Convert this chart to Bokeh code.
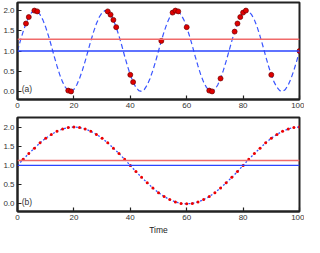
from bokeh.plotting import figure
from bokeh.layouts import column
from bokeh.models import Span, SingleIntervalTicker, NumeralTickFormatter, Label
from bokeh.embed import file_html
from bokeh.resources import INLINE

# ---- panel (a) ----
time_a = list(range(0, 101))
curve_a = [1.00, 1.25, 1.48, 1.68, 1.84, 1.95, 2.00, 1.98, 1.90, 1.77, 1.59, 1.37, 1.13,
           0.87, 0.63, 0.41, 0.23, 0.10, 0.02, 0.00, 0.05, 0.16, 0.32, 0.52, 0.75,
           1.00, 1.25, 1.48, 1.68, 1.84, 1.95, 2.00, 1.98, 1.90, 1.77, 1.59, 1.37, 1.13,
           0.87, 0.63, 0.41, 0.23, 0.10, 0.02, 0.00, 0.05, 0.16, 0.32, 0.52, 0.75,
           1.00, 1.25, 1.48, 1.68, 1.84, 1.95, 2.00, 1.98, 1.90, 1.77, 1.59, 1.37, 1.13,
           0.87, 0.63, 0.41, 0.23, 0.10, 0.02, 0.00, 0.05, 0.16, 0.32, 0.52, 0.75,
           1.00, 1.25, 1.48, 1.68, 1.84, 1.95, 2.00, 1.98, 1.90, 1.77, 1.59, 1.37, 1.13,
           0.87, 0.63, 0.41, 0.23, 0.10, 0.02, 0.00, 0.05, 0.16, 0.32, 0.52, 0.75,
           1.00]
sample_t = [3, 4, 6, 7, 18, 19, 32, 33, 34, 35, 40, 41, 51, 55, 56, 57, 60,
            68, 69, 72, 77, 78, 79, 80, 81, 90, 100]
sample_a = [1.68, 1.84, 2.00, 1.98, 0.02, 0.00, 1.98, 1.90, 1.77, 1.59, 0.41, 0.23,
            1.25, 1.95, 2.00, 1.98, 1.59, 0.02, 0.00, 0.32, 1.48, 1.68, 1.84, 1.95,
            2.00, 0.41, 1.00]
mean_a = 1.29
ref_a = 1.0

# ---- panel (b) ----
time_b = list(range(0, 101, 2))
curve_b = [1.00, 1.16, 1.31, 1.45, 1.59, 1.71, 1.81, 1.89, 1.95, 1.99, 2.00,
           1.99, 1.95, 1.89, 1.81, 1.71, 1.59, 1.45, 1.31, 1.16, 1.00,
           0.84, 0.69, 0.55, 0.41, 0.29, 0.19, 0.11, 0.05, 0.01, 0.00,
           0.01, 0.05, 0.11, 0.19, 0.29, 0.41, 0.55, 0.69, 0.84, 1.00,
           1.16, 1.31, 1.45, 1.59, 1.71, 1.81, 1.89, 1.95, 1.99, 2.00]
mean_b = 1.13
ref_b = 1.0

FONT = "Liberation Sans"
GREY = "#222222"
BLUE = "#2a44ff"
RED_LINE = "#f06a6a"


def style(p, xlabel=None):
    p.xgrid.visible = False
    p.ygrid.visible = False
    p.outline_line_color = GREY
    p.outline_line_width = 2
    p.background_fill_color = "white"
    p.border_fill_color = "white"
    xt = SingleIntervalTicker(interval=20, num_minor_ticks=0)
    yt = SingleIntervalTicker(interval=0.5, num_minor_ticks=0)
    p.xaxis.ticker = xt
    p.yaxis.ticker = yt
    p.yaxis.formatter = NumeralTickFormatter(format="0.0")
    for ax in (p.xaxis[0], p.yaxis[0]):
        ax.axis_line_color = GREY
        ax.axis_line_width = 2
        ax.major_tick_in = 4
        ax.major_tick_out = 0
        ax.minor_tick_in = 0
        ax.minor_tick_out = 0
        ax.major_tick_line_color = GREY
        ax.major_tick_line_width = 1.2
        ax.major_label_text_font = FONT
        ax.major_label_text_font_size = "8px"
        ax.major_label_text_color = "#333333"
        ax.major_label_standoff = 3
    if xlabel:
        p.xaxis.axis_label = xlabel
        p.xaxis.axis_label_text_font = FONT
        p.xaxis.axis_label_text_font_size = "8.5px"
        p.xaxis.axis_label_text_font_style = "normal"
        p.xaxis.axis_label_text_color = "#222222"
        p.xaxis.axis_label_standoff = 2


pa = figure(width=304, height=112, x_range=(0, 100), y_range=(-0.2, 2.2),
            output_backend="svg", toolbar_location=None,
            min_border_left=16, min_border_right=5, min_border_top=2, min_border_bottom=13)
style(pa)
pa.add_layout(Span(location=mean_a, dimension="width", line_color=RED_LINE, line_width=1.5))
pa.add_layout(Span(location=ref_a, dimension="width", line_color=BLUE, line_width=1.3))
pa.line(time_a, curve_a, line_color="#3a55ff", line_width=1.2, line_dash="5 3")
pa.scatter(sample_t, sample_a, size=5, fill_color="#e00000", line_color="#700000", line_width=0.7)
pa.add_layout(Label(x=1.5, y=0.06, text="(a)", text_font=FONT, text_font_size="8.5px",
                    text_color="#333333", text_baseline="middle"))

pb = figure(width=304, height=125, x_range=(0, 100), y_range=(-0.2, 2.25),
            output_backend="svg", toolbar_location=None,
            min_border_left=16, min_border_right=5, min_border_top=5, min_border_bottom=21)
style(pb, "Time")
pb.add_layout(Span(location=mean_b, dimension="width", line_color=RED_LINE, line_width=1.5))
pb.add_layout(Span(location=ref_b, dimension="width", line_color=BLUE, line_width=1.3))
pb.line(time_b, curve_b, line_color="#3a55ff", line_width=1.3, line_dash="2 2")
pb.scatter(time_b, curve_b, size=3, fill_color="#ee0000", line_color=None)
pb.add_layout(Label(x=1.5, y=0.06, text="(b)", text_font=FONT, text_font_size="8.5px",
                    text_color="#333333", text_baseline="middle"))

layout = column(pa, pb)
open("out.html", "w").write(file_html(layout, INLINE))
